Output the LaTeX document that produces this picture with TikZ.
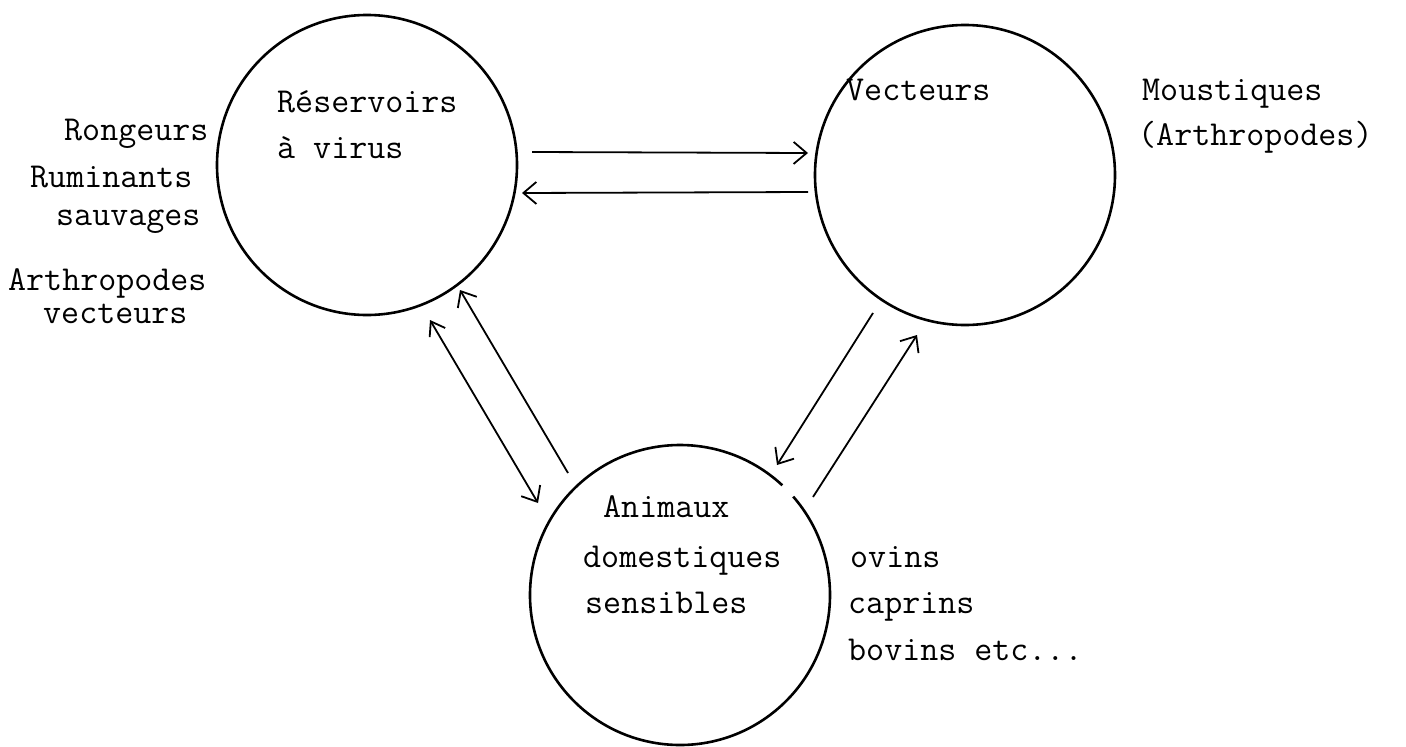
\documentclass[tikz,border=0pt]{standalone}
\usetikzlibrary{arrows.meta}
\begin{document}
\begin{tikzpicture}[x=1pt,y=-1pt,
  ring/.style={circle,draw,line width=2.6pt,minimum size=300pt,inner sep=0pt},
  lbl/.style={anchor=base west,inner sep=0pt,font=\ttfamily\fontsize{35}{40}\selectfont},
  flow/.style={line width=1.8pt,-{Straight Barb[length=13pt,width=22pt,line width=1.8pt]}},
  flow2/.style={line width=1.8pt,{Straight Barb[length=13pt,width=18pt,line width=1.8pt]}-{Straight Barb[length=13pt,width=22pt,line width=1.8pt]}}]
\useasboundingbox (0,0) rectangle (1406,747);
% circles
\node[ring] (res) at (367,165) {};
\node[ring] (vec) at (965,175) {};
\node[ring,draw=none] (ani) at (680,595) {};
\draw[line width=2.6pt] ([shift={(-41:150)}]ani.center) arc[start angle=-41,end angle=313,radius=150];
% texts
\node[lbl] (t1) at (277,112) {Réservoirs};
\node[lbl] (t2) at (277,158) {à virus};
\node[lbl] (t3) at (846,100) {Vecteurs};
\node[lbl] (t4) at (1142,100) {Moustiques};
\node[lbl] (t5) at (1138,145) {(Arthropodes)};
\node[lbl] (t6) at (64,140) {Rongeurs};
\node[lbl] (t7) at (30,187) {Ruminants};
\node[lbl] (t8) at (56,225) {sauvages};
\node[lbl] (t9) at (8,290) {Arthropodes};
\node[lbl] (t10) at (43,323) {vecteurs};
\node[lbl] (t11) at (603,517) {Animaux};
\node[lbl] (t12) at (583,567) {domestiques};
\node[lbl] (t13) at (585,613) {sensibles};
\node[lbl] (t14) at (850,567) {ovins};
\node[lbl] (t15) at (848,613) {caprins};
\node[lbl] (t16) at (848,660) {bovins etc...};
% arrow end points
\coordinate (a1s) at (532,152);
\coordinate (a1e) at (808,153);
\coordinate (a2s) at (808,192);
\coordinate (a2e) at (522,193);
\coordinate (a3s) at (430,320);
\coordinate (a3e) at (538,503);
\coordinate (a4s) at (568,473);
\coordinate (a4e) at (460,290);
\coordinate (a5s) at (873,313);
\coordinate (a5e) at (777,465);
\coordinate (a6s) at (813,497);
\coordinate (a6e) at (917,335);
\draw[flow] (a1s) -- (a1e);
\draw[flow] (a2s) -- (a2e);
\draw[flow2] (a3s) -- (a3e);
\draw[flow] (a4s) -- (a4e);
\draw[flow] (a5s) -- (a5e);
\draw[flow] (a6s) -- (a6e);
\end{tikzpicture}
\end{document}
